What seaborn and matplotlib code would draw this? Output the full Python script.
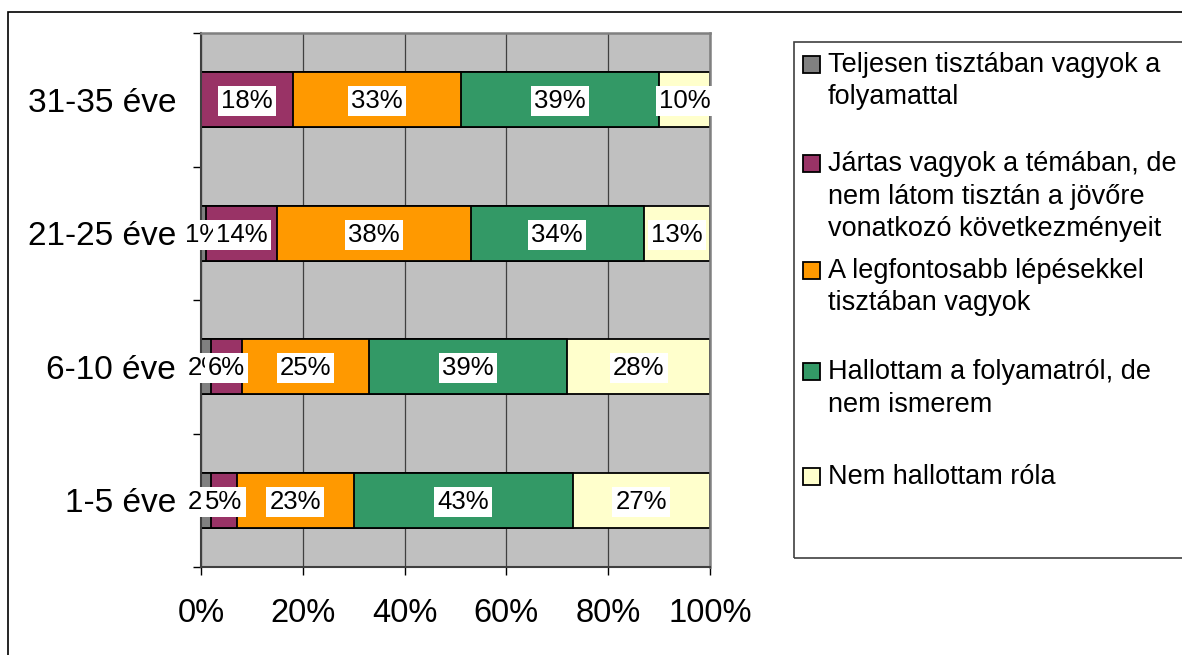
import matplotlib
matplotlib.use("Agg")
import matplotlib.pyplot as plt
import matplotlib.patches as mpatches
import seaborn as sns
import numpy as np
import pandas as pd

# data (percent)
groups = ["31-35 éve", "21-25 éve", "6-10 éve", "1-5 éve"]
teljesen = [0, 1, 2, 2]
jartas = [18, 14, 6, 5]
legfontosabb = [33, 38, 25, 23]
hallottam = [39, 34, 39, 43]
nem_hallottam = [10, 13, 28, 27]
series_names = [
    ["Teljesen tisztában vagyok a", "folyamattal"],
    ["Jártas vagyok a témában, de", "nem látom tisztán a jövőre", "vonatkozó következményeit"],
    ["A legfontosabb lépésekkel", "tisztában vagyok"],
    ["Hallottam a folyamatról, de", "nem ismerem"],
    ["Nem hallottam róla"],
]
colors = ["#808080", "#993366", "#FF9900", "#339966", "#FFFFCC"]
xticks = [0, 20, 40, 60, 80, 100]

sns.set_style("white")
plt.rcParams["font.family"] = ["Liberation Sans", "DejaVu Sans"]
plt.rcParams["text.color"] = "black"
plt.rcParams["xtick.color"] = "black"
plt.rcParams["ytick.color"] = "black"

W, H = 1182, 655
fig = plt.figure(figsize=(W / 100, H / 100), dpi=100)
ax = fig.add_axes([201 / W, 1 - 567 / H, (710 - 201) / W, (567 - 33) / H])
ax.set_facecolor("#C0C0C0")

df = pd.DataFrame({"group": groups, "s0": teljesen, "s1": jartas,
                   "s2": legfontosabb, "s3": hallottam, "s4": nem_hallottam})
cols = ["s0", "s1", "s2", "s3", "s4"]
cum = df[cols].cumsum(axis=1)

# stacked bars: draw the longest cumulative first, shorter ones on top
for i in reversed(range(len(cols))):
    sns.barplot(x=cum[cols[i]], y=df["group"], order=groups, orient="h",
                color=colors[i], saturation=1, width=0.41,
                edgecolor="black", linewidth=1.3, ax=ax, zorder=2)

# value labels
for i, c in enumerate(cols):
    left = cum[c] - df[c]
    for j, v in enumerate(df[c]):
        if v == 0:
            continue
        ax.text(left[j] + v / 2, j + 0.01, f"{v}%", ha="center", va="center",
                fontsize=18.5, color="black", zorder=5,
                bbox=dict(boxstyle="square,pad=0.12", fc="white", ec="none"))

ax.set_xlim(0, 100)
ax.set_ylim(3.5, -0.5)
ax.set_xticks(xticks)
ax.set_xticklabels([f"{t}%" for t in xticks])
ax.set_yticks(range(len(groups)))
ax.set_yticklabels(groups)
ax.set_yticks(np.arange(-0.5, 4, 1), minor=True)
ax.tick_params(axis="y", which="major", length=0, pad=18, labelsize=24)
ax.tick_params(axis="y", which="minor", length=6, width=1, color="black",
               direction="out", left=True)
ax.tick_params(axis="x", length=6, width=1, color="black", direction="out",
               bottom=True, pad=16, labelsize=23.5)
ax.set_xlabel("")
ax.set_ylabel("")
ax.set_axisbelow(True)
ax.xaxis.grid(True, color="#404040", linewidth=0.9)
ax.yaxis.grid(False)
for s in ["top", "right"]:
    ax.spines[s].set_color("#808080")
    ax.spines[s].set_linewidth(1.8)
for s in ["left", "bottom"]:
    ax.spines[s].set_color("#404040")
    ax.spines[s].set_linewidth(1.5)


def fx(px):
    return px / W


def fy(py):
    return 1 - py / H


# outer chart frame
fig.add_artist(mpatches.Rectangle((fx(8), fy(700)), fx(1300) - fx(8), fy(12) - fy(700),
                                  transform=fig.transFigure, fill=False,
                                  ec="black", lw=1.2))
# legend box
fig.add_artist(mpatches.Rectangle((fx(794), fy(558)), fx(1300) - fx(794), fy(42) - fy(558),
                                  transform=fig.transFigure, fill=False,
                                  ec="#404040", lw=1.2))
entry_tops = [65, 164, 271, 372, 477]
line_step = 32.5
for k, lines in enumerate(series_names):
    y0 = entry_tops[k]
    fig.add_artist(mpatches.Rectangle((fx(803), fy(y0 + 8)), fx(17), 17 / H,
                                      transform=fig.transFigure,
                                      fc=colors[k], ec="black", lw=1.3))
    for n, line in enumerate(lines):
        fig.text(fx(828), fy(y0 + n * line_step), line, ha="left", va="center",
                 fontsize=19.5, color="black")

fig.savefig("out.png", dpi=100)
